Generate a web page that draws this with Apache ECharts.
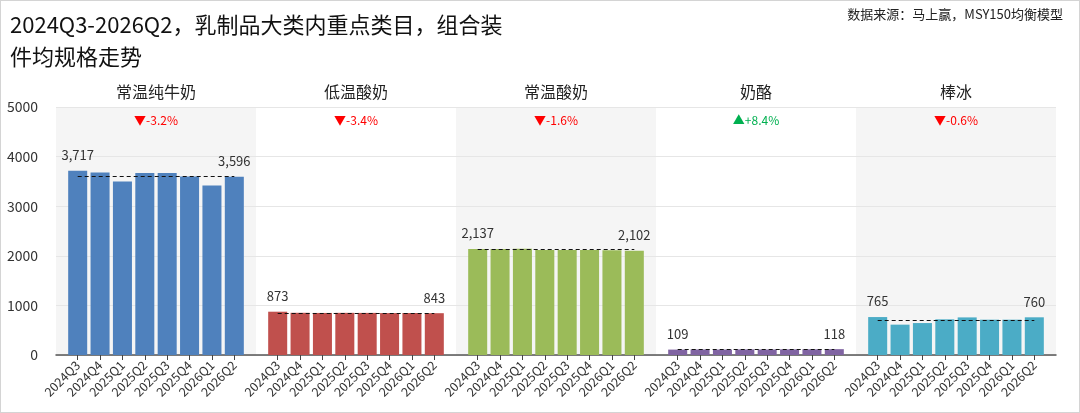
<!DOCTYPE html>
<html>
<head>
<meta charset="utf-8">
<script src="https://cdn.jsdelivr.net/npm/echarts@6/dist/echarts.min.js"></script>
<style>
  html, body { margin: 0; padding: 0; background: #fff; }
  #wrap { position: relative; width: 1080px; height: 413px; }
  #chart { width: 1080px; height: 413px; }
  #frame { position: absolute; left: 0; top: 0; right: 0; bottom: 0; border: 1px solid #d4d4d4; pointer-events: none; }
</style>
</head>
<body>
<div id="wrap">
  <div id="chart"></div>
  <div id="frame"></div>
</div>
<script>
// 季度
const quarters = ["2024Q3", "2024Q4", "2025Q1", "2025Q2", "2025Q3", "2025Q4", "2026Q1", "2026Q2"];
// 类目
const categories = ["常温纯牛奶", "低温酸奶", "常温酸奶", "奶酪", "棒冰"];

// 各类目组合装件均规格
const milkValues = [3717, 3677, 3496, 3670, 3670, 3597, 3416, 3596];
const lowTempYogurtValues = [873, 851, 848, 850, 849, 845, 847, 843];
const ambientYogurtValues = [2137, 2135, 2142, 2118, 2115, 2116, 2112, 2102];
const cheeseValues = [109, 112, 110, 113, 111, 114, 115, 118];
const iceBarValues = [765, 612, 644, 719, 758, 712, 712, 760];

// 首尾变化
const changeLabels = ["-3.2%", "-3.4%", "-1.6%", "+8.4%", "-0.6%"];

// y 轴刻度
const yMax = 5000;
const yInterval = 1000;

const seriesValues = [milkValues, lowTempYogurtValues, ambientYogurtValues, cheeseValues, iceBarValues];
const barColors = ["#4f81bd", "#c0504d", "#9bbb59", "#8064a2", "#4bacc6"];

const FONT = '"Noto Sans CJK SC", "Noto Sans", sans-serif';
const plotLeft = 56;
const plotTop = 107;
const plotHeight = 248;
const panelWidth = 200;
const panelPad = 10.5;

function average(list) {
  return list.reduce((sum, v) => sum + v, 0) / list.length;
}

function formatNumber(v) {
  return Number(v).toLocaleString("en-US");
}

const chart = echarts.init(document.getElementById("chart"));

const grid = [];
const xAxis = [];
const yAxis = [];
const series = [];
const title = [
  {
    text: "2024Q3-2026Q2，乳制品大类内重点类目，组合装\n件均规格走势",
    left: 10,
    top: 9,
    padding: 0,
    textStyle: { fontFamily: FONT, fontSize: 22, fontWeight: "normal", color: "#111", lineHeight: 32 }
  },
  {
    text: "数据来源：马上赢，MSY150均衡模型",
    right: 17,
    top: 7,
    padding: 0,
    textStyle: { fontFamily: FONT, fontSize: 13, fontWeight: "normal", color: "#222", lineHeight: 14 }
  }
];

// 背景色块（交替灰白）
categories.forEach((name, i) => {
  grid.push({
    left: plotLeft + panelWidth * i,
    top: plotTop,
    width: panelWidth,
    height: plotHeight,
    show: true,
    borderWidth: 0,
    backgroundColor: i % 2 === 0 ? "#f5f5f5" : "rgba(0,0,0,0)"
  });
});

// 整体坐标（y 轴 + 底部轴线）
grid.push({
  left: plotLeft,
  top: plotTop,
  width: panelWidth * categories.length,
  height: plotHeight
});
xAxis.push({
  type: "category",
  gridIndex: 5,
  data: [""],
  axisLine: { show: true, lineStyle: { color: "#555", width: 1.5 } },
  axisTick: { show: false },
  axisLabel: { show: false }
});
yAxis.push({
  type: "value",
  gridIndex: 5,
  min: 0,
  max: yMax,
  interval: yInterval,
  axisLine: { show: false },
  axisTick: { show: false },
  axisLabel: { fontFamily: FONT, fontSize: 14, color: "#333", margin: 18, formatter: v => String(v) },
  splitLine: { lineStyle: { color: "#e6e6e6", width: 1 } }
});

// 每个类目一组柱子
categories.forEach((name, i) => {
  const values = seriesValues[i];
  const last = values.length - 1;
  const avg = average(values);
  const up = changeLabels[i].charAt(0) === "+";
  const center = plotLeft + panelWidth * i + panelWidth / 2;

  grid.push({
    left: plotLeft + panelWidth * i + panelPad,
    top: plotTop,
    width: panelWidth - panelPad * 2,
    height: plotHeight
  });
  xAxis.push({
    type: "category",
    gridIndex: 6 + i,
    data: quarters,
    axisLine: { show: false },
    axisTick: { show: true, alignWithLabel: true, length: 5, lineStyle: { color: "#444" } },
    axisLabel: { interval: 0, rotate: 45, fontFamily: FONT, fontSize: 12.5, color: "#333", margin: 8 }
  });
  yAxis.push({
    type: "value",
    gridIndex: 6 + i,
    min: 0,
    max: yMax,
    show: false,
    splitLine: { show: false }
  });
  series.push({
    type: "bar",
    name,
    xAxisIndex: 1 + i,
    yAxisIndex: 1 + i,
    data: values,
    barCategoryGap: "15%",
    itemStyle: { color: barColors[i] },
    label: {
      show: true,
      position: "top",
      distance: 9,
      fontFamily: FONT,
      fontSize: 13,
      color: "#333",
      formatter: p => (p.dataIndex === 0 || p.dataIndex === last ? formatNumber(p.value) : "")
    },
    markLine: {
      silent: true,
      symbol: "none",
      label: { show: false },
      lineStyle: { color: "#111", type: [4, 3], width: 1.2 },
      data: [[{ coord: [quarters[0], avg] }, { coord: [quarters[last], avg] }]]
    }
  });

  title.push({
    text: name,
    left: center,
    top: 83,
    padding: 0,
    textAlign: "center",
    textStyle: { fontFamily: FONT, fontSize: 16, fontWeight: "normal", color: "#222", lineHeight: 17 }
  });
  title.push({
    text: (up ? "▲" : "▼") + changeLabels[i],
    left: center,
    top: 114,
    padding: 0,
    textAlign: "center",
    textStyle: { fontFamily: FONT, fontSize: 12, fontWeight: "normal", color: up ? "#00b050" : "#ff0000", lineHeight: 13 }
  });
});

chart.setOption({
  animation: false,
  backgroundColor: "#fff",
  title,
  grid,
  xAxis,
  yAxis,
  series
});
</script>
</body>
</html>
